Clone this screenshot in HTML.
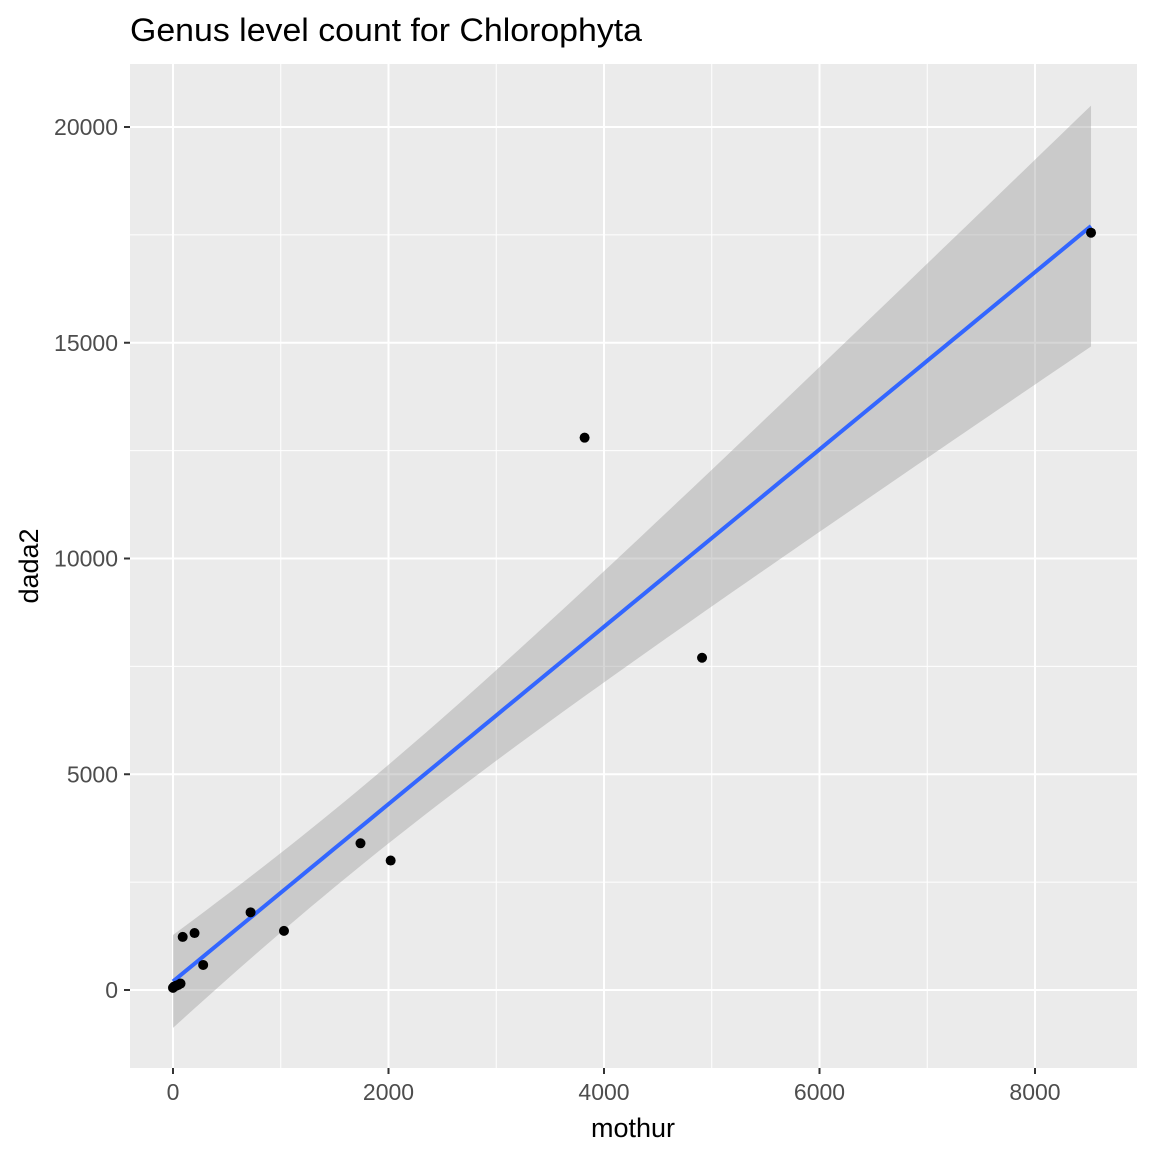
<!DOCTYPE html>
<html><head><meta charset="utf-8"><style>
body{margin:0;background:#fff}
svg text{font-family:"Liberation Sans",sans-serif}
</style></head><body>
<svg id="c" width="1152" height="1152" xmlns="http://www.w3.org/2000/svg">
<rect width="1152" height="1152" fill="#fff"/>
<text x="130" y="41" font-size="32" textLength="512" lengthAdjust="spacingAndGlyphs" fill="#000">Genus level count for Chlorophyta</text>
<rect x="130" y="64" width="1007" height="1004" fill="#ebebeb"/>
<g id="grid"></g><g id="band"></g><g id="pts"></g><g id="axes"></g>
<text x="633" y="1137" font-size="27" text-anchor="middle" fill="#000">mothur</text>
<text transform="translate(38,566) rotate(-90)" font-size="27" text-anchor="middle" fill="#000">dada2</text>
</svg>
<script>
const mothurVals=[0,10,30,50,70,90,200,280,720,1030,1740,2020,3820,4910,8520];
const dada2Vals=[50,80,100,120,150,1230,1320,580,1800,1370,3400,3000,12800,7700,17550];
const xTicks=[0,2000,4000,6000,8000];
const yTicks=[0,5000,10000,15000,20000];
const xMinor=[1000,3000,5000,7000];
const yMinor=[-2500,2500,7500,12500,17500];
const NS="http://www.w3.org/2000/svg";
const X=v=>173+v*(1035-173)/8000, Y=v=>990-v*(990-127)/20000;
function mk(t,a,p){const e=document.createElementNS(NS,t);for(const k in a)e.setAttribute(k,a[k]);p.appendChild(e);return e;}
const g=document.getElementById('grid'),ax=document.getElementById('axes');
xMinor.forEach(v=>{const l=mk('line',{x1:X(v),x2:X(v),y1:64,y2:1068,stroke:'#fff','stroke-width':1},g);
});
yMinor.forEach(v=>{const y=Y(v);if(y<64||y>1068)return;const l=mk('line',{x1:130,x2:1137,y1:y,y2:y,stroke:'#fff','stroke-width':1},g);
});
xTicks.forEach(v=>{const l=mk('line',{x1:X(v),x2:X(v),y1:64,y2:1068,stroke:'#fff','stroke-width':2},g);

const t=mk('line',{x1:X(v),x2:X(v),y1:1068,y2:1074,stroke:'#333','stroke-width':2},ax);

const tx=mk('text',{x:X(v),y:1100,'font-size':23,'text-anchor':'middle',fill:'#4d4d4d'},ax);tx.textContent=v;
});
yTicks.forEach(v=>{const l=mk('line',{x1:130,x2:1137,y1:Y(v),y2:Y(v),stroke:'#fff','stroke-width':2},g);

const t=mk('line',{x1:124,x2:130,y1:Y(v),y2:Y(v),stroke:'#333','stroke-width':2},ax);

const tx=mk('text',{x:118,y:Y(v)+8,'font-size':23,'text-anchor':'end',fill:'#4d4d4d'},ax);tx.textContent=v;
});
const n=mothurVals.length,mx=mothurVals.reduce((a,b)=>a+b)/n,my=dada2Vals.reduce((a,b)=>a+b)/n;
let sxx=0,sxy=0;mothurVals.forEach((x,i)=>{sxx+=(x-mx)**2;sxy+=(x-mx)*(dada2Vals[i]-my);});
const b=sxy/sxx,a=my-b*mx;let sse=0;mothurVals.forEach((x,i)=>{sse+=(dada2Vals[i]-a-b*x)**2;});
const s=Math.sqrt(sse/(n-2)),tq=2.16;
const x0=Math.min(...mothurVals),x1=Math.max(...mothurVals);
let up=[],lo=[],ln=[];
for(let i=0;i<=80;i++){const x=x0+(x1-x0)*i/80,f=a+b*x,h=tq*s*Math.sqrt(1/n+(x-mx)**2/sxx);
up.push(X(x)+','+Y(f+h));lo.unshift(X(x)+','+Y(f-h));ln.push(X(x)+','+Y(f));}
const bd=document.getElementById('band');
const poly=mk('polygon',{points:up.concat(lo).join(' '),fill:'#999',opacity:0.4},bd);

const pl=mk('polyline',{points:ln.join(' '),fill:'none',stroke:'#3366ff','stroke-width':4},bd);

const pg=document.getElementById('pts');
mothurVals.forEach((x,i)=>{const c=mk('circle',{cx:X(x),cy:Y(dada2Vals[i]),r:5,fill:'#000'},pg);
});
</script>
</body></html>
